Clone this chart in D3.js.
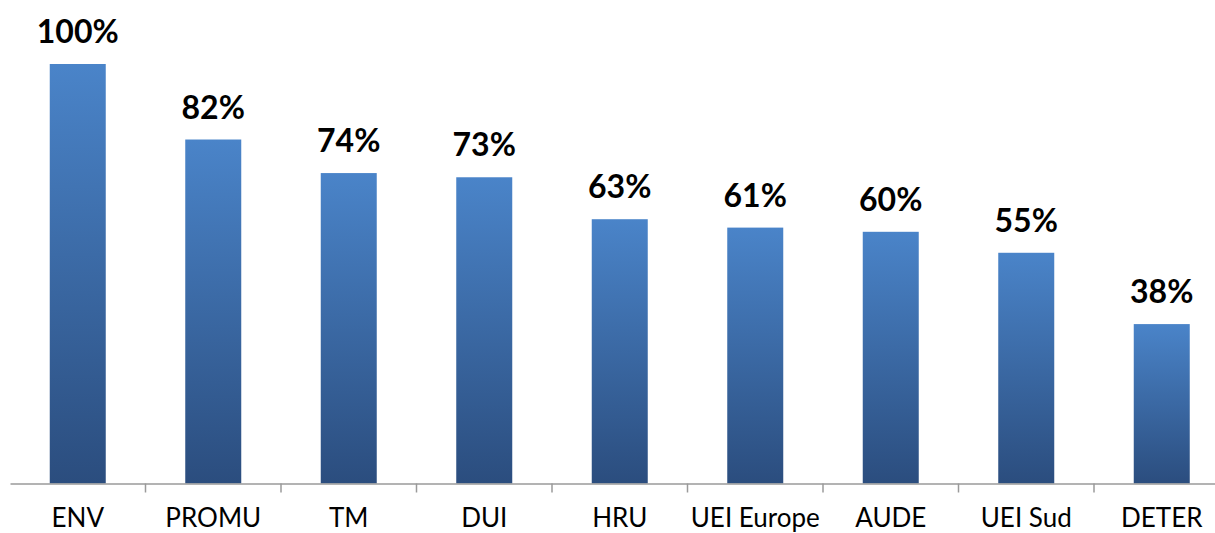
<!DOCTYPE html>
<html>
<head>
<meta charset="utf-8">
<script src="https://cdn.jsdelivr.net/npm/d3@7"></script>
<style>
  body { margin: 0; background: #fff; }
  svg { display: block; }
</style>
</head>
<body>
<div id="vis"></div>
<script>
const categories = ["ENV", "PROMU", "TM", "DUI", "HRU", "UEI Europe", "AUDE", "UEI Sud", "DETER"];
const values = [100, 82, 74, 73, 63, 61, 60, 55, 38];

const width = 1215, height = 533;
const baseY = 483.5;

const svg = d3.select("#vis").append("svg").attr("width", width).attr("height", height);

const grad = svg.append("defs").append("linearGradient")
  .attr("id", "barGrad")
  .attr("x1", 0).attr("y1", 0).attr("x2", 0).attr("y2", 1);
grad.append("stop").attr("offset", "0%").attr("stop-color", "#4a84c9");
grad.append("stop").attr("offset", "100%").attr("stop-color", "#2b4d7e");

// band is 135.5 wide, chart runs off the right edge
const x = d3.scaleBand().domain(categories).range([10, 10 + 135.5 * categories.length]).paddingInner(0).paddingOuter(0);
const y = d3.scaleLinear().domain([0, 100]).range([baseY, 64]);
const barW = 56;

svg.selectAll("rect.bar")
  .data(categories)
  .enter()
  .append("rect")
  .attr("class", "bar")
  .attr("x", d => x(d) + x.bandwidth() / 2 - barW / 2)
  .attr("y", (d, i) => y(values[i]))
  .attr("width", barW)
  .attr("height", (d, i) => baseY - y(values[i]))
  .attr("fill", "url(#barGrad)");

// axis
const axis = svg.append("g")
  .attr("transform", `translate(0,${baseY})`)
  .call(d3.axisBottom(x).tickSize(0).tickFormat(""));
axis.select(".domain").attr("stroke", "#9a9a9a").attr("stroke-width", 1.5);

svg.selectAll("line.tick")
  .data(categories.slice(1))
  .enter()
  .append("line")
  .attr("class", "tick")
  .attr("x1", d => x(d)).attr("x2", d => x(d))
  .attr("y1", baseY).attr("y2", baseY + 9)
  .attr("stroke", "#9a9a9a")
  .attr("stroke-width", 1.5);

svg.selectAll("text.cat")
  .data(categories)
  .enter()
  .append("text")
  .attr("class", "cat")
  .attr("x", d => x(d) + x.bandwidth() / 2)
  .attr("y", 527)
  .attr("text-anchor", "middle")
  .style("font-family", "Lato, sans-serif")
  .style("font-size", "26px")
  .attr("fill", "#000")
  .text(d => d);

svg.selectAll("text.val")
  .data(categories)
  .enter()
  .append("text")
  .attr("class", "val")
  .attr("x", d => x(d) + x.bandwidth() / 2)
  .attr("y", (d, i) => y(values[i]) - 21)
  .attr("text-anchor", "middle")
  .style("font-family", "Lato, sans-serif")
  .style("font-weight", "bold")
  .style("font-size", "32px")
  .attr("fill", "#000")
  .text((d, i) => values[i] + "%");
</script>
</body>
</html>
